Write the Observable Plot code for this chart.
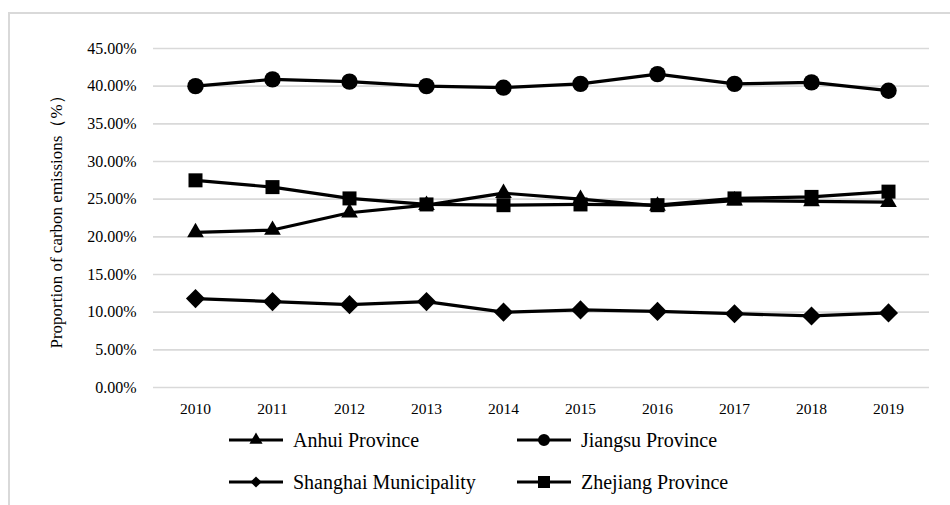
<!DOCTYPE html>
<html><head><meta charset="utf-8">
<script src="https://cdn.jsdelivr.net/npm/d3@7"></script>
<script src="https://cdn.jsdelivr.net/npm/@observablehq/plot@0.6"></script>
<style>
html,body{margin:0;padding:0;background:#fff;overflow:hidden;width:950px;height:505px}
#wrap{position:relative;width:950px;height:505px;overflow:hidden;font-family:"Liberation Serif",serif;background:#fff}
#frame{position:absolute;left:8px;top:12px;width:1000px;height:600px;border:2px solid #d9d9d9;box-sizing:border-box}
#chart{position:absolute;left:0;top:0}
.leg{position:absolute;display:flex;align-items:center;font-family:"Liberation Serif",serif;font-size:20px;color:#000;white-space:nowrap;height:24px}
.leg svg{display:block;margin-right:9px}
</style></head><body>
<div id="wrap"><div id="frame"></div><div id="chart"></div><div id="legend"></div></div>
<script>
const years = [2010, 2011, 2012, 2013, 2014, 2015, 2016, 2017, 2018, 2019];
const anhui    = [20.6, 20.9, 23.2, 24.2, 25.8, 25.0, 24.1, 24.8, 24.7, 24.6];
const jiangsu  = [40.0, 40.9, 40.6, 40.0, 39.8, 40.3, 41.6, 40.3, 40.5, 39.4];
const shanghai = [11.8, 11.4, 11.0, 11.4, 10.0, 10.3, 10.1, 9.8, 9.5, 9.9];
const zhejiang = [27.5, 26.6, 25.1, 24.3, 24.2, 24.3, 24.2, 25.1, 25.3, 26.0];
const yTicks = [0, 5, 10, 15, 20, 25, 30, 35, 40, 45];
const yLabel = "Proportion of carbon emissions（%）";
const seriesNames = ["Anhui Province", "Jiangsu Province", "Shanghai Municipality", "Zhejiang Province"];

const series = [
  {name: seriesNames[0], values: anhui,    symbol: "triangle", r: 6.2, lsize: 75,  d3sym: d3.symbolTriangle},
  {name: seriesNames[1], values: jiangsu,  symbol: "circle",   r: 8.2, lsize: 113, d3sym: d3.symbolCircle},
  {name: seriesNames[2], values: shanghai, symbol: "diamond2", r: 8.6, lsize: 80,  d3sym: d3.symbolDiamond2},
  {name: seriesNames[3], values: zhejiang, symbol: "square",   r: 7.9, lsize: 144, d3sym: d3.symbolSquare}
];
const rows = series.flatMap(s => years.map((yr, i) => ({series: s.name, year: yr, value: s.values[i]})));

const chart = Plot.plot({
  width: 950, height: 505,
  marginTop: 48, marginBottom: 118, marginLeft: 153, marginRight: 21,
  style: {fontFamily: "'Liberation Serif', serif", fontSize: "16px", color: "#000", background: "transparent", overflow: "visible"},
  x: {type: "point", domain: years, padding: 0.5},
  y: {domain: [0, 45]},
  marks: [
    Plot.gridY(yTicks, {stroke: "#d9d9d9", strokeOpacity: 1, strokeWidth: 1.6}),
    Plot.axisY(yTicks, {tickSize: 0, tickPadding: 17, tickFormat: d => d.toFixed(2) + "%", label: null, fontSize: 16}),
    Plot.axisX({tickSize: 0, tickPadding: 15, label: null, tickFormat: d => String(d), fontSize: 15.5}),
    Plot.text([yLabel], {text: d => d, frameAnchor: "left", textAnchor: "middle", rotate: -90, dx: -97, fontSize: 17, fill: "#000"}),
    Plot.line(rows, {x: "year", y: "value", z: "series", stroke: "#000", strokeWidth: 3.2}),
    ...series.map(s => Plot.dot(rows.filter(d => d.series === s.name), {x: "year", y: "value", symbol: s.symbol, r: s.r, fill: "#000", stroke: "none"}))
  ]
});
document.getElementById("chart").appendChild(chart);

// legend
const legPos = [[228, 428], [516, 428], [228, 470], [516, 470]];
const legend = d3.select("#legend");
series.forEach((s, i) => {
  const item = legend.append("div").attr("class", "leg")
    .style("left", legPos[i][0] + "px").style("top", legPos[i][1] + "px");
  const svg = item.append("svg").attr("width", 56).attr("height", 24);
  svg.append("line").attr("x1", 1).attr("x2", 55).attr("y1", 12).attr("y2", 12)
    .attr("stroke", "#000").attr("stroke-width", 3.2);
  svg.append("path").attr("transform", "translate(28,12)")
    .attr("d", d3.symbol(s.d3sym, s.lsize)()).attr("fill", "#000");
  item.append("span").text(s.name);
});
</script>
</body></html>
